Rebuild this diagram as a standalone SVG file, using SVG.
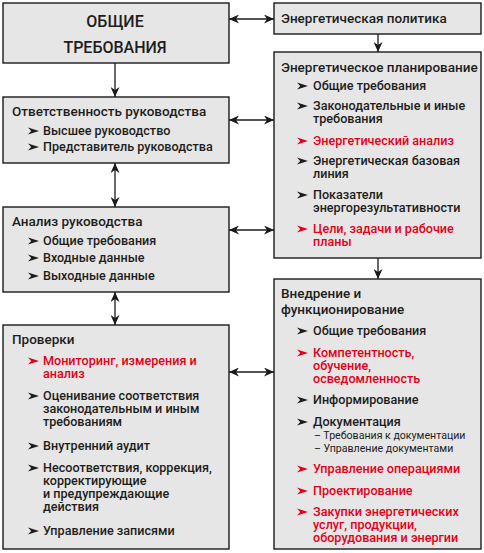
<svg xmlns="http://www.w3.org/2000/svg" width="484" height="553" viewBox="0 0 484 553">
<style>
.box{fill:#e6e6e6;stroke:#1a1a1a;stroke-width:1.4}
text{font-family:Roboto,"Liberation Sans",sans-serif;fill:#1d1d1b}
.big{font-size:16px;font-weight:500;text-anchor:middle}
.t{font-size:13.5px;font-weight:500}
.i{font-size:12.6px;font-weight:500}
.s{font-size:10.6px;font-weight:400}
.r{fill:#e2001a}
.c{stroke:#1a1a1a;stroke-width:1.3;fill:none;marker-end:url(#ah);marker-start:url(#ah)}
.c1{stroke:#1a1a1a;stroke-width:1.3;fill:none;marker-end:url(#ah)}
</style>
<defs>
<marker id="ah" markerUnits="userSpaceOnUse" markerWidth="10" markerHeight="9" refX="10" refY="4.5" orient="auto-start-reverse" viewBox="0 0 10 9">
<path d="M0,0 L10,4.5 L0,9 L3,4.5 Z" fill="#1a1a1a"/>
</marker>
<path id="b" d="M0,-3.6 L11,0 L0,3.6 L3.2,0 Z" fill="#1d1d1b"/>
<path id="br" d="M0,-3.6 L11,0 L0,3.6 L3.2,0 Z" fill="#e2001a"/>
</defs>

<g id="connectors">
<line class="c" x1="229" y1="19" x2="274" y2="19"/>
<line class="c" x1="229" y1="120" x2="274" y2="120"/>
<line class="c" x1="229" y1="230" x2="274" y2="230"/>
<line class="c" x1="229" y1="372" x2="274" y2="372"/>
<line class="c1" x1="115" y1="63" x2="115" y2="97"/>
<line class="c" x1="115" y1="163" x2="115" y2="207"/>
<line class="c" x1="115" y1="292" x2="115" y2="325"/>
<line class="c1" x1="378" y1="34" x2="378" y2="52"/>
<line class="c1" x1="378" y1="258" x2="378" y2="279"/>
</g>

<g id="obshchie">
<rect class="box" x="3" y="3" width="226" height="60"/>
<text class="big" x="115" y="27">ОБЩИЕ</text>
<text class="big" x="115" y="53">ТРЕБОВАНИЯ</text>
</g>

<g id="otvetstvennost">
<rect class="box" x="3" y="97" width="226" height="66"/>
<text class="t" x="12" y="116">Ответственность руководства</text>
<use href="#b" x="28" y="131"/>
<text class="i" x="43" y="135">Высшее руководство</text>
<use href="#b" x="28" y="147"/>
<text class="i" x="43" y="151">Представитель руководства</text>
</g>

<g id="analiz">
<rect class="box" x="3" y="207" width="226" height="85"/>
<text class="t" x="12" y="226">Анализ руководства</text>
<use href="#b" x="28" y="241"/>
<text class="i" x="43" y="245">Общие требования</text>
<use href="#b" x="28" y="258"/>
<text class="i" x="43" y="262">Входные данные</text>
<use href="#b" x="28" y="276"/>
<text class="i" x="43" y="280">Выходные данные</text>
</g>

<g id="proverki">
<rect class="box" x="3" y="325" width="226" height="224"/>
<text class="t" x="12" y="344">Проверки</text>
<use href="#br" x="28" y="361"/>
<text class="i r" x="43" y="365">Мониторинг, измерения и<tspan x="43" dy="13">анализ</tspan></text>
<use href="#b" x="28" y="396"/>
<text class="i" x="43" y="400">Оценивание соответствия<tspan x="43" dy="13">законодательным и иным</tspan><tspan x="43" dy="13">требованиям</tspan></text>
<use href="#b" x="28" y="446"/>
<text class="i" x="43" y="450">Внутренний аудит</text>
<use href="#b" x="28" y="468"/>
<text class="i" x="43" y="472">Несоответствия, коррекция,<tspan x="43" dy="13">корректирующие</tspan><tspan x="43" dy="13">и предупреждающие</tspan><tspan x="43" dy="13">действия</tspan></text>
<use href="#b" x="28" y="531"/>
<text class="i" x="43" y="535">Управление записями</text>
</g>

<g id="politika">
<rect class="box" x="274" y="3" width="207" height="31"/>
<text class="t" x="281" y="23">Энергетическая политика</text>
</g>

<g id="planirovanie">
<rect class="box" x="274" y="52" width="207" height="206"/>
<text class="t" x="281" y="72">Энергетическое планирование</text>
<use href="#b" x="297" y="86"/>
<text class="i" x="313" y="90">Общие требования</text>
<use href="#b" x="297" y="106"/>
<text class="i" x="313" y="110">Законодательные и иные<tspan x="313" dy="13">требования</tspan></text>
<use href="#br" x="297" y="141"/>
<text class="i r" x="313" y="145">Энергетический анализ</text>
<use href="#b" x="297" y="161"/>
<text class="i" x="313" y="165">Энергетическая базовая<tspan x="313" dy="13">линия</tspan></text>
<use href="#b" x="297" y="195"/>
<text class="i" x="313" y="199">Показатели<tspan x="313" dy="13">энергорезультативности</tspan></text>
<use href="#br" x="297" y="229"/>
<text class="i r" x="313" y="233">Цели, задачи и рабочие<tspan x="313" dy="13">планы</tspan></text>
</g>

<g id="vnedrenie">
<rect class="box" x="274" y="279" width="207" height="270"/>
<text class="t" x="281" y="298">Внедрение и<tspan x="281" dy="16">функционирование</tspan></text>
<use href="#b" x="297" y="331"/>
<text class="i" x="313" y="335">Общие требования</text>
<use href="#br" x="297" y="353"/>
<text class="i r" x="313" y="357">Компетентность,<tspan x="313" dy="13">обучение,</tspan><tspan x="313" dy="13">осведомленность</tspan></text>
<use href="#b" x="297" y="400"/>
<text class="i" x="313" y="404">Информирование</text>
<use href="#b" x="297" y="422"/>
<text class="i" x="313" y="426">Документация</text>
<text class="s" x="314" y="439">– Требования к документации<tspan x="314" dy="13">– Управление документами</tspan></text>
<use href="#br" x="297" y="469"/>
<text class="i r" x="313" y="473">Управление операциями</text>
<use href="#br" x="297" y="491"/>
<text class="i r" x="313" y="495">Проектирование</text>
<use href="#br" x="297" y="512"/>
<text class="i r" x="313" y="516">Закупки энергетических<tspan x="313" dy="13">услуг, продукции,</tspan><tspan x="313" dy="13">оборудования и энергии</tspan></text>
</g>
</svg>
